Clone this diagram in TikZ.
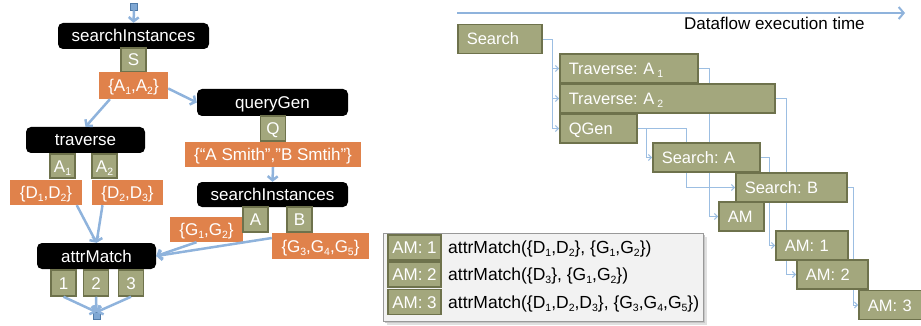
\documentclass[tikz,border=0pt]{standalone}
\usepackage{fontspec}
\setmainfont{Liberation Sans}
\usetikzlibrary{arrows.meta,calc}
\pgfdeclarelayer{bg}
\pgfsetlayers{bg,main}
\definecolor{boxol}{HTML}{A3A77D}
\definecolor{boxolb}{HTML}{6E724C}
\definecolor{orng}{HTML}{E0824B}
\definecolor{arw}{HTML}{8FB3DC}
\definecolor{thinarw}{HTML}{9CBEE2}
\definecolor{sqfill}{HTML}{7FA7D3}
\definecolor{sqdraw}{HTML}{4F7AA8}
\newcommand{\ftA}{\frenchspacing\fontsize{17}{20}\selectfont}
\newcommand{\ftB}{\frenchspacing\fontsize{16.5}{19}\selectfont}
\newcommand{\ftC}{\frenchspacing\fontsize{17.5}{20}\selectfont}
\newcommand{\lsub}[1]{\raisebox{-3pt}{\fontsize{10.5}{11}\selectfont #1}}
\tikzset{
  blkbox/.style={fill=black, text=white, rounded corners=5pt, inner sep=0pt,
    font=\ftA, text height=12pt, text depth=0pt},
  olbox/.style={fill=boxol, draw=boxolb, line width=1.5pt, text=white, inner sep=0pt,
    font=\ftA, text height=12pt, text depth=0pt},
  orbox/.style={fill=orng, text=white, inner sep=0pt,
    font=\ftA, text height=12pt, text depth=0pt},
  tbox/.style={fill=boxol, draw=boxolb, line width=1.5pt, text=white, anchor=west,
    inner xsep=9pt, inner ysep=0pt, align=left, minimum height=29pt,
    font=\ftB, text height=12pt, text depth=0pt},
  larw/.style={draw=arw, line width=2.5pt, -{Straight Barb[length=4pt,width=10pt]}},
  conn/.style={draw=thinarw, line width=0.9pt, -{Straight Barb[length=3pt,width=6pt]}},
  tlarw/.style={draw=arw, line width=2pt, -{Straight Barb[length=5pt,width=12pt]}},
  sq/.style={fill=sqfill, draw=sqdraw, line width=0.8pt, minimum size=7pt, inner sep=0pt},
  legtxt/.style={anchor=west, inner sep=0pt, font=\ftC, text height=12pt, text depth=0pt}
}
\begin{document}
\begin{tikzpicture}[x=1pt,y=-1pt]
\useasboundingbox (0,0) rectangle (921,326);
\clip (0,0) rectangle (921,326);

% ---------- left dataflow ----------
\node[sq] (topsq) at (134,6.5) {};
\node[blkbox, minimum width=151pt, minimum height=26pt] (si1) at (133.5,36) {searchInstances};
\node[olbox, minimum width=25pt, minimum height=24pt] (S) at (133.5,60) {S};
\node[orbox, minimum width=69pt, minimum height=27pt] (A12) at (133.5,85.5) {\{A\lsub{1},A\lsub{2}\}};
\node[blkbox, minimum width=151pt, minimum height=27pt] (qg) at (272.5,102.5) {queryGen};
\node[olbox, minimum width=25pt, minimum height=25pt] (Q) at (273,128.5) {Q};
\node[orbox, minimum width=176pt, minimum height=25pt] (smith) at (273,154.5) {\{“A Smith”,”B Smtih”\}};
\node[blkbox, minimum width=119pt, minimum height=26pt] (tr) at (85.5,140) {traverse};
\node[olbox, minimum width=25pt, minimum height=24pt] (tA1) at (62.5,166) {A\lsub{1}};
\node[olbox, minimum width=25pt, minimum height=24pt] (tA2) at (104.5,166) {A\lsub{2}};
\node[orbox, minimum width=72pt, minimum height=25pt] (D12) at (46,192.5) {\{D\lsub{1},D\lsub{2}\}};
\node[orbox, minimum width=71pt, minimum height=25pt] (D23) at (127.5,192.5) {\{D\lsub{2},D\lsub{3}\}};
\node[blkbox, minimum width=151pt, minimum height=25pt] (si2) at (272.5,194.5) {searchInstances};
\node[orbox, minimum width=73pt, minimum height=25pt] (G12) at (206.5,229.5) {\{G\lsub{1},G\lsub{2}\}};
\node[orbox, minimum width=97pt, minimum height=26pt] (G345) at (320.5,246) {\{G\lsub{3},G\lsub{4},G\lsub{5}\}};
\node[olbox, minimum width=25pt, minimum height=25pt] (sA) at (255.5,219.5) {A};
\node[olbox, minimum width=25pt, minimum height=25pt] (sB) at (299.5,219.5) {B};
\node[blkbox, minimum width=119pt, minimum height=26pt] (am) at (96.5,256) {attrMatch};
\node[olbox, minimum width=25pt, minimum height=26pt] (b1) at (63.5,283) {1};
\node[olbox, minimum width=25pt, minimum height=26pt] (b2) at (96,283) {2};
\node[olbox, minimum width=25pt, minimum height=26pt] (b3) at (131,283) {3};
\node[sq] (botsq) at (96.5,316) {};

\draw[larw] (topsq.south) -- (si1.north);
\draw[larw] ($(A12.east)+(0,3)$) -- (qg.west);
\draw[larw] ($(A12.south west)!0.16!(A12.south east)$) -- (tr.north);
\draw[larw] (smith.south) -- (si2.north);
\draw[larw] ($(D12.south)!0.85!(D12.south east)$) -- (am.north);
\draw[larw] ($(D23.south west)!0.15!(D23.south east)$) -- (am.north);
\draw[larw] ($(G12.south)+(-10,0)$) -- (am.east);
\draw[larw] ($(G345.west)+(0,-8)$) -- (am.east);
\draw[larw] (b1.south) -- (botsq.north);
\draw[larw] (b2.south) -- (botsq.north);
\draw[larw] (b3.south) -- (botsq.north);

% ---------- timeline ----------
\coordinate (tl0) at (457,13);
\coordinate (tl1) at (905,13);
\draw[tlarw] (tl0) -- (tl1);
\node[anchor=base west, inner sep=0pt, font=\ftA] (tltxt) at (684,29.5) {Dataflow execution time};

\node[tbox, text width=66pt]  (Srch) at (457,39)    {Search};
\node[tbox, text width=120pt] (TA1)  at (559,68.5)  {Traverse: A\hspace{3pt}\lsub{1}};
\node[tbox, text width=197pt] (TA2)  at (559,98.5)  {Traverse: A\hspace{3pt}\lsub{2}};
\node[tbox, text width=59pt]  (QGen) at (559,128.5) {QGen};
\node[tbox, text width=89pt]  (SA)   at (652,157.5) {Search: A};
\node[tbox, text width=93pt]  (SB)   at (735,187.5) {Search: B};
\node[tbox, text width=27pt]  (AM)   at (718,216.5) {AM};
\node[tbox, text width=54pt]  (AM1)  at (775,245.5) {AM: 1};
\node[tbox, text width=53pt]  (AM2)  at (796,274.5) {AM: 2};
\node[tbox, text width=54pt]  (AM3)  at (858,305)   {AM: 3};

\begin{pgfonlayer}{bg}
\draw[conn] (Srch.east) -- ++(10,0) |- (TA1.west);
\draw[conn] (Srch.east) -- ++(10,0) |- (TA2.west);
\draw[conn] (Srch.east) -- ++(10,0) |- (QGen.west);
\draw[conn] (TA1.east) -- ++(11,0) |- (AM.west);
\draw[conn] (TA2.east) -- ++(11,0) |- (AM2.west);
\draw[conn] (QGen.east) -- ++(9,0) |- (SA.west);
\draw[conn] (QGen.east) -- ++(49,0) |- (SB.west);
\draw[conn] (SA.east) -- ++(9,0) |- (AM1.west);
\draw[conn] (SB.east) -- ++(6,0) |- (AM3.west);
\end{pgfonlayer}

% ---------- legend ----------
\fill[black!12] (387,237) rectangle (707,325);
\fill[black!22] (385,235) rectangle (705,323);
\node[fill=black!5, draw=black!40, line width=0.8pt, minimum width=320pt, minimum height=88pt, inner sep=0pt] (leg) at (543,277) {};
\node[olbox, minimum width=53pt, minimum height=25pt] (l1) at (414.5,247.5) {AM: 1};
\node[olbox, minimum width=53pt, minimum height=25pt] (l2) at (414.5,274.5) {AM: 2};
\node[olbox, minimum width=53pt, minimum height=25pt] (l3) at (414.5,302) {AM: 3};
\node[legtxt] (t1) at (448,247.5) {attrMatch(\{D\lsub{1},D\lsub{2}\}, \{G\lsub{1},G\lsub{2}\})};
\node[legtxt] (t2) at (448,274.5) {attrMatch(\{D\lsub{3}\}, \{G\lsub{1},G\lsub{2}\})};
\node[legtxt] (t3) at (448,302) {attrMatch(\{D\lsub{1},D\lsub{2},D\lsub{3}\}, \{G\lsub{3},G\lsub{4},G\lsub{5}\})};
\end{tikzpicture}
\end{document}
